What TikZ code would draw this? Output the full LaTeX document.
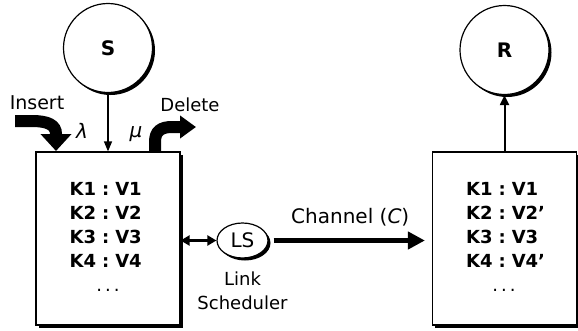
\documentclass[tikz,border=0pt]{standalone}
\usepackage{fontspec}
\setmainfont{DejaVu Sans}
\usepackage{amsmath}
\usepackage{tikz}
\usetikzlibrary{arrows.meta}
\usetikzlibrary{positioning}
\usetikzlibrary{matrix}
\usetikzlibrary{shapes.geometric,shadows}
\newcommand{\kvfont}{\fontsize{18}{24}\selectfont\bfseries}
\newcommand{\lblfont}{\fontsize{18}{24}\selectfont}

\begin{document}
\begin{tikzpicture}[x=1pt,y=-1pt,
    hardshadow/.style={general shadow={fill=black,shadow xshift=2.5pt,shadow yshift=-2.5pt}},
    peer/.style={circle,draw,line width=1.2pt,fill=white,minimum size=89pt,inner sep=0pt,
                 font=\fontsize{20}{24}\selectfont\bfseries,hardshadow},
    store/.style={draw,line width=1.2pt,fill=white,minimum width=144pt,minimum height=173pt,hardshadow},
    kv/.style={matrix of nodes,ampersand replacement=\&,inner sep=0pt,column sep=6pt,row sep=7pt,
               nodes={font=\kvfont,inner sep=0pt,text height=13pt,text depth=4pt,anchor=west}},
    fat/.style={line width=12pt}]
  \useasboundingbox (0,0) rectangle (578,330);
  \node[peer] (S) at (108,48) {S};
  \node[peer] (R) at (504.5,50) {R};
  \node[store] (lbox) at (108,238.5) {};
  \node[store] (rbox) at (504.5,238.5) {};
  \matrix (lkv) [kv,below right=31pt and 34pt of lbox.north west] {
    K1 \& : \& V1 \\
    K2 \& : \& V2 \\
    K3 \& : \& V3 \\
    K4 \& : \& V4 \\};
  \matrix (rkv) [kv,below right=31pt and 34pt of rbox.north west] {
    K1 \& : \& V1 \\
    K2 \& : \& V2' \\
    K3 \& : \& V3 \\
    K4 \& : \& V4' \\};
  \node[font=\lblfont] (ldots) at (108,290) {.\,.\,.};
  \node[font=\lblfont] (rdots) at (504,290) {.\,.\,.};
  \node[ellipse,draw,line width=1.2pt,fill=white,minimum width=51pt,minimum height=35pt,inner sep=0pt,
        font=\fontsize{20}{24}\selectfont,hardshadow] (LS) at (242.5,240.5) {LS};
  \node[below=13pt of LS,align=center,inner sep=0pt,font=\lblfont] (lsname) {Link\\Scheduler};
  \node[font=\fontsize{19}{22}\selectfont] (ins) at (37,103) {Insert};
  \node[font=\lblfont] (del) at (190,105) {Delete};
  \node[font=\fontsize{20}{24}\selectfont\itshape] (lam) at (82,131) {λ};
  \node[font=\fontsize{20}{24}\selectfont\itshape] (mu) at (136,134) {μ};
  \coordinate (insfrom) at (15,121);
  \coordinate (insto) at (56,151);
  \coordinate (delfrom) at (155,152);
  \coordinate (delto) at (196,127);
  \path[line width=1.2pt,-{Triangle[width=8pt,length=10pt]}]
    (S) edge (lbox);
  \path[line width=2pt,-{Triangle[width=9pt,length=10pt]}]
    (rbox) edge (R);
  \draw[line width=2.5pt,{Triangle[width=10pt,length=9pt]}-{Triangle[width=10pt,length=9pt]}]
    (lbox.east |- LS) -- (LS);
  \draw[line width=5pt,-{Triangle[width=17pt,length=17pt]},shorten <=5pt,shorten >=7pt]
    (LS) -- node[above=12pt,inner sep=0pt,font=\fontsize{20}{24}\selectfont] {Channel (\textit{C})} (rbox.west |- LS);
  \draw[fat,-{Triangle[width=30pt,length=17pt]}]
    (insfrom) -- (32,121) .. controls (48,121) and (56,125) .. (56,134) -- (insto);
  \draw[fat,-{Triangle[width=22pt,length=16pt]}]
    (delfrom) -- (155,142) .. controls (155,131) and (161,127) .. (172,127) -- (delto);
\end{tikzpicture}
\end{document}
